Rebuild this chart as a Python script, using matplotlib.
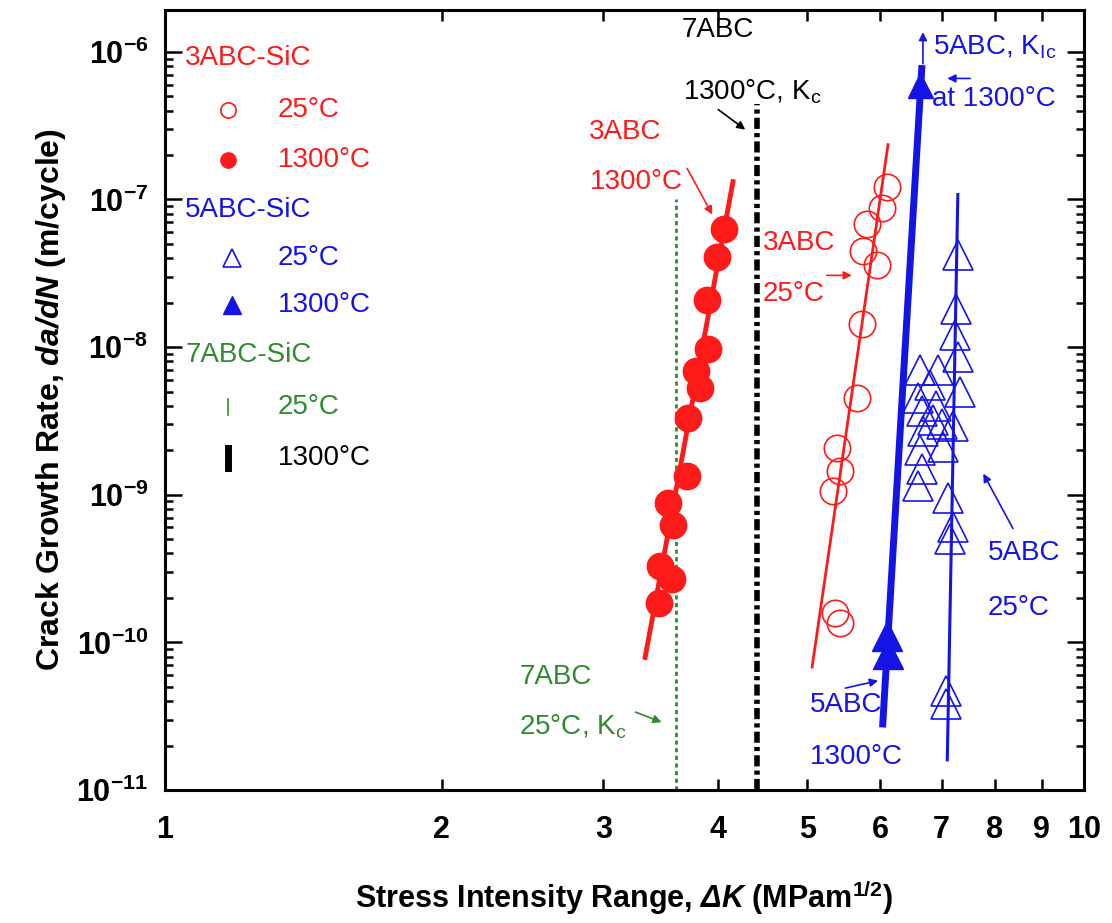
import numpy as np
import matplotlib
matplotlib.use('Agg')
import matplotlib.pyplot as plt
from matplotlib.ticker import LogLocator, NullFormatter, FixedLocator, NullLocator

plt.rcParams['font.family'] = ['Liberation Sans', 'DejaVu Sans']
plt.rcParams['mathtext.fontset'] = 'custom'
plt.rcParams['mathtext.rm'] = 'Liberation Sans'
plt.rcParams['mathtext.it'] = 'Liberation Sans:italic'
plt.rcParams['mathtext.bf'] = 'Liberation Sans:bold'
plt.rcParams['mathtext.bfit'] = 'Liberation Sans:italic:bold'
plt.rcParams['lines.scale_dashes'] = False

RED = '#ff1a1a'
BLUE = '#1414e6'
GREEN = '#2e8b2e'

# 3ABC-SiC, 1300C (filled circles)
k3_hot = [4.06, 3.99, 3.89, 3.90, 3.78, 3.82, 3.71, 3.70, 3.53, 3.57, 3.46, 3.56, 3.45]
v3_hot = [6.3e-8, 4.1e-8, 2.1e-8, 9.7e-9, 6.9e-9, 5.3e-9, 3.3e-9, 1.34e-9,
          8.8e-10, 6.2e-10, 3.3e-10, 2.7e-10, 1.84e-10]
fit3_hot_k = [3.33, 4.15]
fit3_hot_v = [7.9e-11, 1.32e-7]

# 3ABC-SiC, 25C (open circles)
k3_rt = [6.10, 6.03, 5.81, 5.75, 5.95, 5.73, 5.66, 5.39, 5.43, 5.33, 5.36, 5.43]
v3_rt = [1.22e-7, 8.7e-8, 6.8e-8, 4.45e-8, 3.6e-8, 1.43e-8, 4.5e-9, 2.08e-9,
         1.45e-9, 1.06e-9, 1.57e-10, 1.36e-10]
fit3_rt_k = [5.06, 6.12]
fit3_rt_v = [6.8e-11, 2.35e-7]

# 5ABC-SiC, 1300C (filled triangles)
k5_hot = [6.10, 6.12, 6.63]
v5_hot = [1.11e-10, 8.4e-11, 6.0e-7]
fit5_hot_k = [6.04, 6.66]
fit5_hot_v = [2.8e-11, 7.7e-7]

# 5ABC-SiC, 25C (open triangles)
k5_rt = [7.29, 7.26, 7.24, 7.29, 7.33, 7.20, 7.11, 7.20, 7.15, 7.07, 7.08,
         6.63, 6.94, 6.60, 6.80, 6.66, 6.68, 6.63, 6.66, 6.60, 7.03, 6.85, 6.90, 7.00]
v5_rt = [4.2e-8, 1.8e-8, 1.2e-8, 8.5e-9, 5.0e-9, 2.9e-9, 9.5e-10, 6.0e-10, 5.0e-10,
         4.7e-11, 3.8e-11,
         7.0e-9, 7.0e-9, 4.5e-9, 5.5e-9, 3.7e-9, 2.7e-9, 2.0e-9, 1.5e-9, 1.15e-9,
         2.1e-9, 3.2e-9, 4.0e-9, 3.0e-9]
fit5_rt_k = [7.10, 7.29]
fit5_rt_v = [1.6e-11, 1.08e-7]

# 7ABC-SiC, Kc lines
k7_rt = 3.60
v7_rt_top = 1.0e-7
k7_hot = 4.41
v7_hot_top = 4.4e-7

xticks = [1, 2, 3, 4, 5, 6, 7, 8, 9, 10]
yticks = [1e-11, 1e-10, 1e-9, 1e-8, 1e-7, 1e-6]
ytick_labels = [r'$\mathbf{10^{-11}}$', r'$\mathbf{10^{-10}}$', r'$\mathbf{10^{-9}}$',
                r'$\mathbf{10^{-8}}$', r'$\mathbf{10^{-7}}$', r'$\mathbf{10^{-6}}$']

fig = plt.figure(figsize=(11.12, 9.23), dpi=100)
ax = fig.add_axes([0.1484, 0.1441, 0.8264, 0.8451])
ax.set_xscale('log')
ax.set_yscale('log')
ax.set_xlim(1, 10)
ax.set_ylim(1e-11, 1.92e-6)

# 7ABC lines
ax.plot([k7_rt, k7_rt], [1e-11, v7_rt_top], color=GREEN, lw=2, dashes=(3, 2.5))
ax.plot([k7_hot, k7_hot], [1e-11, v7_hot_top], color='black', lw=4, dashes=(8, 3, 3, 3))

# 3ABC
ax.plot(fit3_hot_k, fit3_hot_v, color=RED, lw=3.5)
ax.plot(k3_hot, v3_hot, 'o', color=RED, ms=19, mec=RED)
ax.plot(fit3_rt_k, fit3_rt_v, color=RED, lw=2)
ax.plot(k3_rt, v3_rt, 'o', mfc='none', mec=RED, ms=19, mew=1.2)

# 5ABC
ax.plot(fit5_rt_k, fit5_rt_v, color=BLUE, lw=2.2)
ax.plot(k5_rt, v5_rt, '^', mfc='none', mec=BLUE, ms=21, mew=1.2)
ax.plot(fit5_hot_k, fit5_hot_v, color=BLUE, lw=5)
ax.plot(k5_hot[:2], v5_hot[:2], '^', color=BLUE, ms=21)
ax.plot(k5_hot[2:], v5_hot[2:], '^', color=BLUE, ms=18)

# ticks
ax.xaxis.set_major_locator(FixedLocator(xticks))
ax.set_xticklabels([str(t) for t in xticks])
ax.xaxis.set_minor_locator(NullLocator())
ax.yaxis.set_major_locator(FixedLocator(yticks))
ax.set_yticklabels(ytick_labels)
ax.yaxis.set_minor_locator(LogLocator(base=10, subs=np.arange(2, 10)))
ax.yaxis.set_minor_formatter(NullFormatter())
ax.tick_params(which='both', direction='in', top=True, right=True, width=1.8)
ax.tick_params(axis='x', which='major', length=8, pad=18, labelsize=22)
ax.tick_params(axis='y', which='major', length=12, pad=12, labelsize=22)
ax.tick_params(axis='y', which='minor', length=6)
for lab in ax.get_xticklabels():
    lab.set_fontweight('bold')
for s in ax.spines.values():
    s.set_linewidth(2.2)

ax.set_xlabel(r'Stress Intensity Range, $\mathbfit{\Delta K}$ (MPam$^{\mathbf{1/2}}$)',
              fontsize=22, fontweight='bold', labelpad=24)
ax.set_ylabel(r'Crack Growth Rate, $\mathbfit{da/dN}$ (m/cycle)',
              fontsize=23, fontweight='bold', labelpad=6)

# legend (drawn by hand)
fs = 20
tr = ax.transAxes
ax.text(0.022, 0.938, '3ABC-SiC', color=RED, fontsize=fs, va='center', transform=tr)
ax.plot([0.069], [0.872], 'o', mfc='none', mec=RED, ms=11, mew=1.2, transform=tr)
ax.text(0.123, 0.872, '25°C', color=RED, fontsize=fs, va='center', transform=tr)
ax.plot([0.069], [0.808], 'o', color=RED, ms=11, transform=tr)
ax.text(0.123, 0.808, '1300°C', color=RED, fontsize=fs, va='center', transform=tr)
ax.text(0.022, 0.744, '5ABC-SiC', color=BLUE, fontsize=fs, va='center', transform=tr)
ax.plot([0.073], [0.682], '^', mfc='none', mec=BLUE, ms=13, mew=1.2, transform=tr)
ax.text(0.123, 0.682, '25°C', color=BLUE, fontsize=fs, va='center', transform=tr)
ax.plot([0.073], [0.622], '^', color=BLUE, ms=13, transform=tr)
ax.text(0.123, 0.622, '1300°C', color=BLUE, fontsize=fs, va='center', transform=tr)
ax.text(0.022, 0.558, '7ABC-SiC', color=GREEN, fontsize=fs, va='center', transform=tr)
ax.plot([0.069, 0.069], [0.481, 0.501], color=GREEN, lw=1.2, transform=tr)
ax.text(0.123, 0.491, '25°C', color=GREEN, fontsize=fs, va='center', transform=tr)
ax.plot([0.069, 0.069], [0.413, 0.439], color='black', lw=5, transform=tr)
ax.text(0.123, 0.426, '1300°C', color='black', fontsize=fs, va='center', transform=tr)

# annotations
def note(txt, x, y, color):
    ax.text(x, y, txt, color=color, fontsize=fs, va='center', ha='left')

def arrow(x0, y0, x1, y1, color):
    ax.annotate('', xy=(x1, y1), xytext=(x0, y0),
                arrowprops=dict(arrowstyle='-|>', color=color, lw=1.2,
                                mutation_scale=12, shrinkA=0, shrinkB=0))

note('7ABC', 3.65, 1.41e-6, 'black')
note(r'1300°C, K$_{\rm c}$', 3.66, 5.4e-7, 'black')
arrow(4.0, 4.06e-7, 4.28, 2.97e-7, 'black')

note('3ABC', 2.89, 2.88e-7, RED)
note('1300°C', 2.90, 1.32e-7, RED)
arrow(3.70, 1.62e-7, 3.94, 7.9e-8, RED)

note('3ABC', 4.47, 5.05e-8, RED)
note('25°C', 4.47, 2.28e-8, RED)
arrow(5.25, 3.06e-8, 5.59, 3.06e-8, RED)

note(r'5ABC, K$_{\rm Ic}$', 6.85, 1.08e-6, BLUE)
note('at 1300°C', 6.83, 4.8e-7, BLUE)
arrow(7.52, 6.6e-7, 7.10, 6.6e-7, BLUE)
arrow(6.68, 8.3e-7, 6.68, 1.36e-6, BLUE)

note('5ABC', 7.86, 4.0e-10, BLUE)
note('25°C', 7.86, 1.7e-10, BLUE)
arrow(8.37, 5.9e-10, 7.77, 1.39e-9, BLUE)

note('5ABC', 5.03, 3.75e-11, BLUE)
note('1300°C', 5.03, 1.67e-11, BLUE)
arrow(5.5, 4.9e-11, 5.97, 5.5e-11, BLUE)

note('7ABC', 2.43, 5.8e-11, GREEN)
note(r'25°C, K$_{\rm c}$', 2.43, 2.67e-11, GREEN)
arrow(3.25, 3.37e-11, 3.47, 2.88e-11, GREEN)

fig.savefig('out.png', dpi=100)
